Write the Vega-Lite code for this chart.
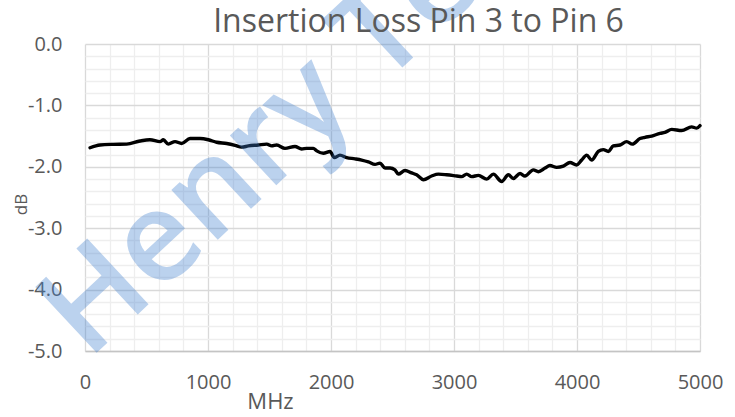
{
  "$schema": "https://vega.github.io/schema/vega-lite/v6.json",
  "autosize": {"type": "none"},
  "width": 615,
  "height": 307,
  "padding": {"left": 85, "top": 44, "right": 35, "bottom": 66},
  "background": "white",
  "config": {"view": {"stroke": null}, "font": "Open Sans"},
  "title": {"text": "Insertion Loss Pin 3 to Pin 6", "font": "Open Sans", "fontSize": 32, "fontWeight": "normal", "color": "#595959", "anchor": "middle", "frame": "group", "baseline": "alphabetic", "dx": 26, "offset": -149},
  "layer": [
    {
      "data": {"values": [
        {"mhz": 41, "db": -1.69}, {"mhz": 122, "db": -1.645}, {"mhz": 230, "db": -1.634}, {"mhz": 339, "db": -1.63},
        {"mhz": 447, "db": -1.58}, {"mhz": 528, "db": -1.56}, {"mhz": 610, "db": -1.59}, {"mhz": 637, "db": -1.56},
        {"mhz": 677, "db": -1.63}, {"mhz": 732, "db": -1.59}, {"mhz": 786, "db": -1.62}, {"mhz": 854, "db": -1.54},
        {"mhz": 935, "db": -1.54}, {"mhz": 1003, "db": -1.56}, {"mhz": 1070, "db": -1.6}, {"mhz": 1152, "db": -1.62},
        {"mhz": 1220, "db": -1.65}, {"mhz": 1274, "db": -1.68}, {"mhz": 1328, "db": -1.66}, {"mhz": 1409, "db": -1.645},
        {"mhz": 1477, "db": -1.63}, {"mhz": 1518, "db": -1.66}, {"mhz": 1558, "db": -1.645}, {"mhz": 1626, "db": -1.7},
        {"mhz": 1707, "db": -1.67}, {"mhz": 1762, "db": -1.71}, {"mhz": 1802, "db": -1.7}, {"mhz": 1856, "db": -1.7},
        {"mhz": 1884, "db": -1.74}, {"mhz": 1938, "db": -1.78}, {"mhz": 1992, "db": -1.75}, {"mhz": 2027, "db": -1.85},
        {"mhz": 2073, "db": -1.81}, {"mhz": 2127, "db": -1.85}, {"mhz": 2195, "db": -1.87}, {"mhz": 2249, "db": -1.89},
        {"mhz": 2304, "db": -1.92}, {"mhz": 2358, "db": -1.96}, {"mhz": 2398, "db": -1.94}, {"mhz": 2439, "db": -2.02},
        {"mhz": 2480, "db": -2.02}, {"mhz": 2520, "db": -2.05}, {"mhz": 2547, "db": -2.12}, {"mhz": 2602, "db": -2.06},
        {"mhz": 2656, "db": -2.1}, {"mhz": 2696, "db": -2.13}, {"mhz": 2751, "db": -2.21}, {"mhz": 2818, "db": -2.15},
        {"mhz": 2873, "db": -2.12}, {"mhz": 2940, "db": -2.13}, {"mhz": 3022, "db": -2.15}, {"mhz": 3062, "db": -2.16},
        {"mhz": 3103, "db": -2.12}, {"mhz": 3144, "db": -2.16}, {"mhz": 3198, "db": -2.14}, {"mhz": 3266, "db": -2.2},
        {"mhz": 3320, "db": -2.12}, {"mhz": 3388, "db": -2.24}, {"mhz": 3442, "db": -2.13}, {"mhz": 3482, "db": -2.19},
        {"mhz": 3537, "db": -2.11}, {"mhz": 3577, "db": -2.15}, {"mhz": 3645, "db": -2.05}, {"mhz": 3686, "db": -2.08},
        {"mhz": 3740, "db": -2.02}, {"mhz": 3780, "db": -1.98}, {"mhz": 3835, "db": -2.01}, {"mhz": 3889, "db": -1.99},
        {"mhz": 3943, "db": -1.93}, {"mhz": 3997, "db": -1.97}, {"mhz": 4038, "db": -1.89}, {"mhz": 4079, "db": -1.81},
        {"mhz": 4119, "db": -1.89}, {"mhz": 4173, "db": -1.75}, {"mhz": 4214, "db": -1.72}, {"mhz": 4255, "db": -1.75},
        {"mhz": 4295, "db": -1.66}, {"mhz": 4350, "db": -1.645}, {"mhz": 4404, "db": -1.59}, {"mhz": 4450, "db": -1.63},
        {"mhz": 4512, "db": -1.54}, {"mhz": 4553, "db": -1.52}, {"mhz": 4607, "db": -1.5}, {"mhz": 4675, "db": -1.455},
        {"mhz": 4715, "db": -1.44}, {"mhz": 4770, "db": -1.39}, {"mhz": 4851, "db": -1.41}, {"mhz": 4932, "db": -1.35},
        {"mhz": 4973, "db": -1.37}, {"mhz": 5000, "db": -1.33}
      ]},
      "mark": {"type": "line", "color": "black", "strokeWidth": 3.4, "interpolate": "monotone", "strokeCap": "round", "strokeJoin": "round"},
      "encoding": {
        "x": {
          "field": "mhz", "type": "quantitative",
          "scale": {"domain": [0, 5000], "nice": false, "zero": false},
          "axis": {
            "title": "MHz",
            "values": [0,200,400,600,800,1000,1200,1400,1600,1800,2000,2200,2400,2600,2800,3000,3200,3400,3600,3800,4000,4200,4400,4600,4800,5000],
            "labelExpr": "datum.value % 1000 === 0 ? datum.label : ''",
            "format": "d",
            "grid": true,
            "gridColor": {"condition": {"test": "datum.value % 1000 === 0", "value": "#d9d9d9"}, "value": "#eeeeee"},
            "gridWidth": 1.3,
            "ticks": false,
            "domain": true, "domainColor": "#c4c4c4", "domainWidth": 1.6,
            "labelFont": "Open Sans", "labelFontSize": 20, "labelColor": "#595959",
            "labelPadding": 21, "labelFlush": false, "labelOverlap": false, "labelBound": false,
            "titleFont": "Open Sans", "titleFontSize": 22, "titleFontWeight": "normal", "titleColor": "#595959",
            "titleX": 185, "titleY": 57, "titleAlign": "center", "titleBaseline": "alphabetic"
          }
        },
        "y": {
          "field": "db", "type": "quantitative",
          "scale": {"domain": [-5, 0], "nice": false, "zero": false},
          "axis": {
            "title": "dB",
            "values": [-5,-4.8,-4.6,-4.4,-4.2,-4,-3.8,-3.6,-3.4,-3.2,-3,-2.8,-2.6,-2.4,-2.2,-2,-1.8,-1.6,-1.4,-1.2,-1,-0.8,-0.6,-0.4,-0.2,0],
            "labelExpr": "abs(datum.value % 1) < 0.001 ? (datum.value < 0 ? '-' : '') + format(abs(datum.value), '.1f') : ''",
            "grid": true,
            "gridColor": {"condition": {"test": "abs(datum.value % 1) < 0.001", "value": "#d9d9d9"}, "value": "#eeeeee"},
            "gridWidth": 1.3,
            "ticks": false,
            "domain": false,
            "labelFont": "Open Sans", "labelFontSize": 20, "labelColor": "#595959",
            "labelPadding": 23, "labelOverlap": false, "labelBound": false,
            "titleFont": "Open Sans", "titleFontSize": 17, "titleFontWeight": "normal", "titleColor": "#595959",
            "titleX": -64, "titleY": 160, "titleAngle": -90, "titleAlign": "center", "titleBaseline": "middle"
          }
        }
      }
    },
    {
      "data": {"values": [{"watermark": "Henry Te"}]},
      "mark": {"type": "text", "font": "Open Sans", "fontSize": 126, "fontWeight": 600, "angle": -43, "align": "left", "baseline": "alphabetic", "color": "#3f7fcf", "opacity": 0.35},
      "encoding": {
        "text": {"field": "watermark"},
        "x": {
          "datum": 24, "type": "quantitative",
          "axis": {
            "title": "MHz",
            "values": [0,200,400,600,800,1000,1200,1400,1600,1800,2000,2200,2400,2600,2800,3000,3200,3400,3600,3800,4000,4200,4400,4600,4800,5000],
            "labelExpr": "datum.value % 1000 === 0 ? datum.label : ''",
            "format": "d",
            "grid": true,
            "gridColor": {"condition": {"test": "datum.value % 1000 === 0", "value": "#d9d9d9"}, "value": "#eeeeee"},
            "gridWidth": 1.3,
            "ticks": false,
            "domain": true, "domainColor": "#c4c4c4", "domainWidth": 1.6,
            "labelFont": "Open Sans", "labelFontSize": 20, "labelColor": "#595959",
            "labelPadding": 21, "labelFlush": false, "labelOverlap": false, "labelBound": false,
            "titleFont": "Open Sans", "titleFontSize": 22, "titleFontWeight": "normal", "titleColor": "#595959",
            "titleX": 185, "titleY": 57, "titleAlign": "center", "titleBaseline": "alphabetic"
          }
        },
        "y": {
          "datum": -5.16, "type": "quantitative",
          "axis": {
            "title": "dB",
            "values": [-5,-4.8,-4.6,-4.4,-4.2,-4,-3.8,-3.6,-3.4,-3.2,-3,-2.8,-2.6,-2.4,-2.2,-2,-1.8,-1.6,-1.4,-1.2,-1,-0.8,-0.6,-0.4,-0.2,0],
            "labelExpr": "abs(datum.value % 1) < 0.001 ? (datum.value < 0 ? '-' : '') + format(abs(datum.value), '.1f') : ''",
            "grid": true,
            "gridColor": {"condition": {"test": "abs(datum.value % 1) < 0.001", "value": "#d9d9d9"}, "value": "#eeeeee"},
            "gridWidth": 1.3,
            "ticks": false,
            "domain": false,
            "labelFont": "Open Sans", "labelFontSize": 20, "labelColor": "#595959",
            "labelPadding": 23, "labelOverlap": false, "labelBound": false,
            "titleFont": "Open Sans", "titleFontSize": 17, "titleFontWeight": "normal", "titleColor": "#595959",
            "titleX": -64, "titleY": 160, "titleAngle": -90, "titleAlign": "center", "titleBaseline": "middle"
          }
        }
      }
    }
  ]
}
